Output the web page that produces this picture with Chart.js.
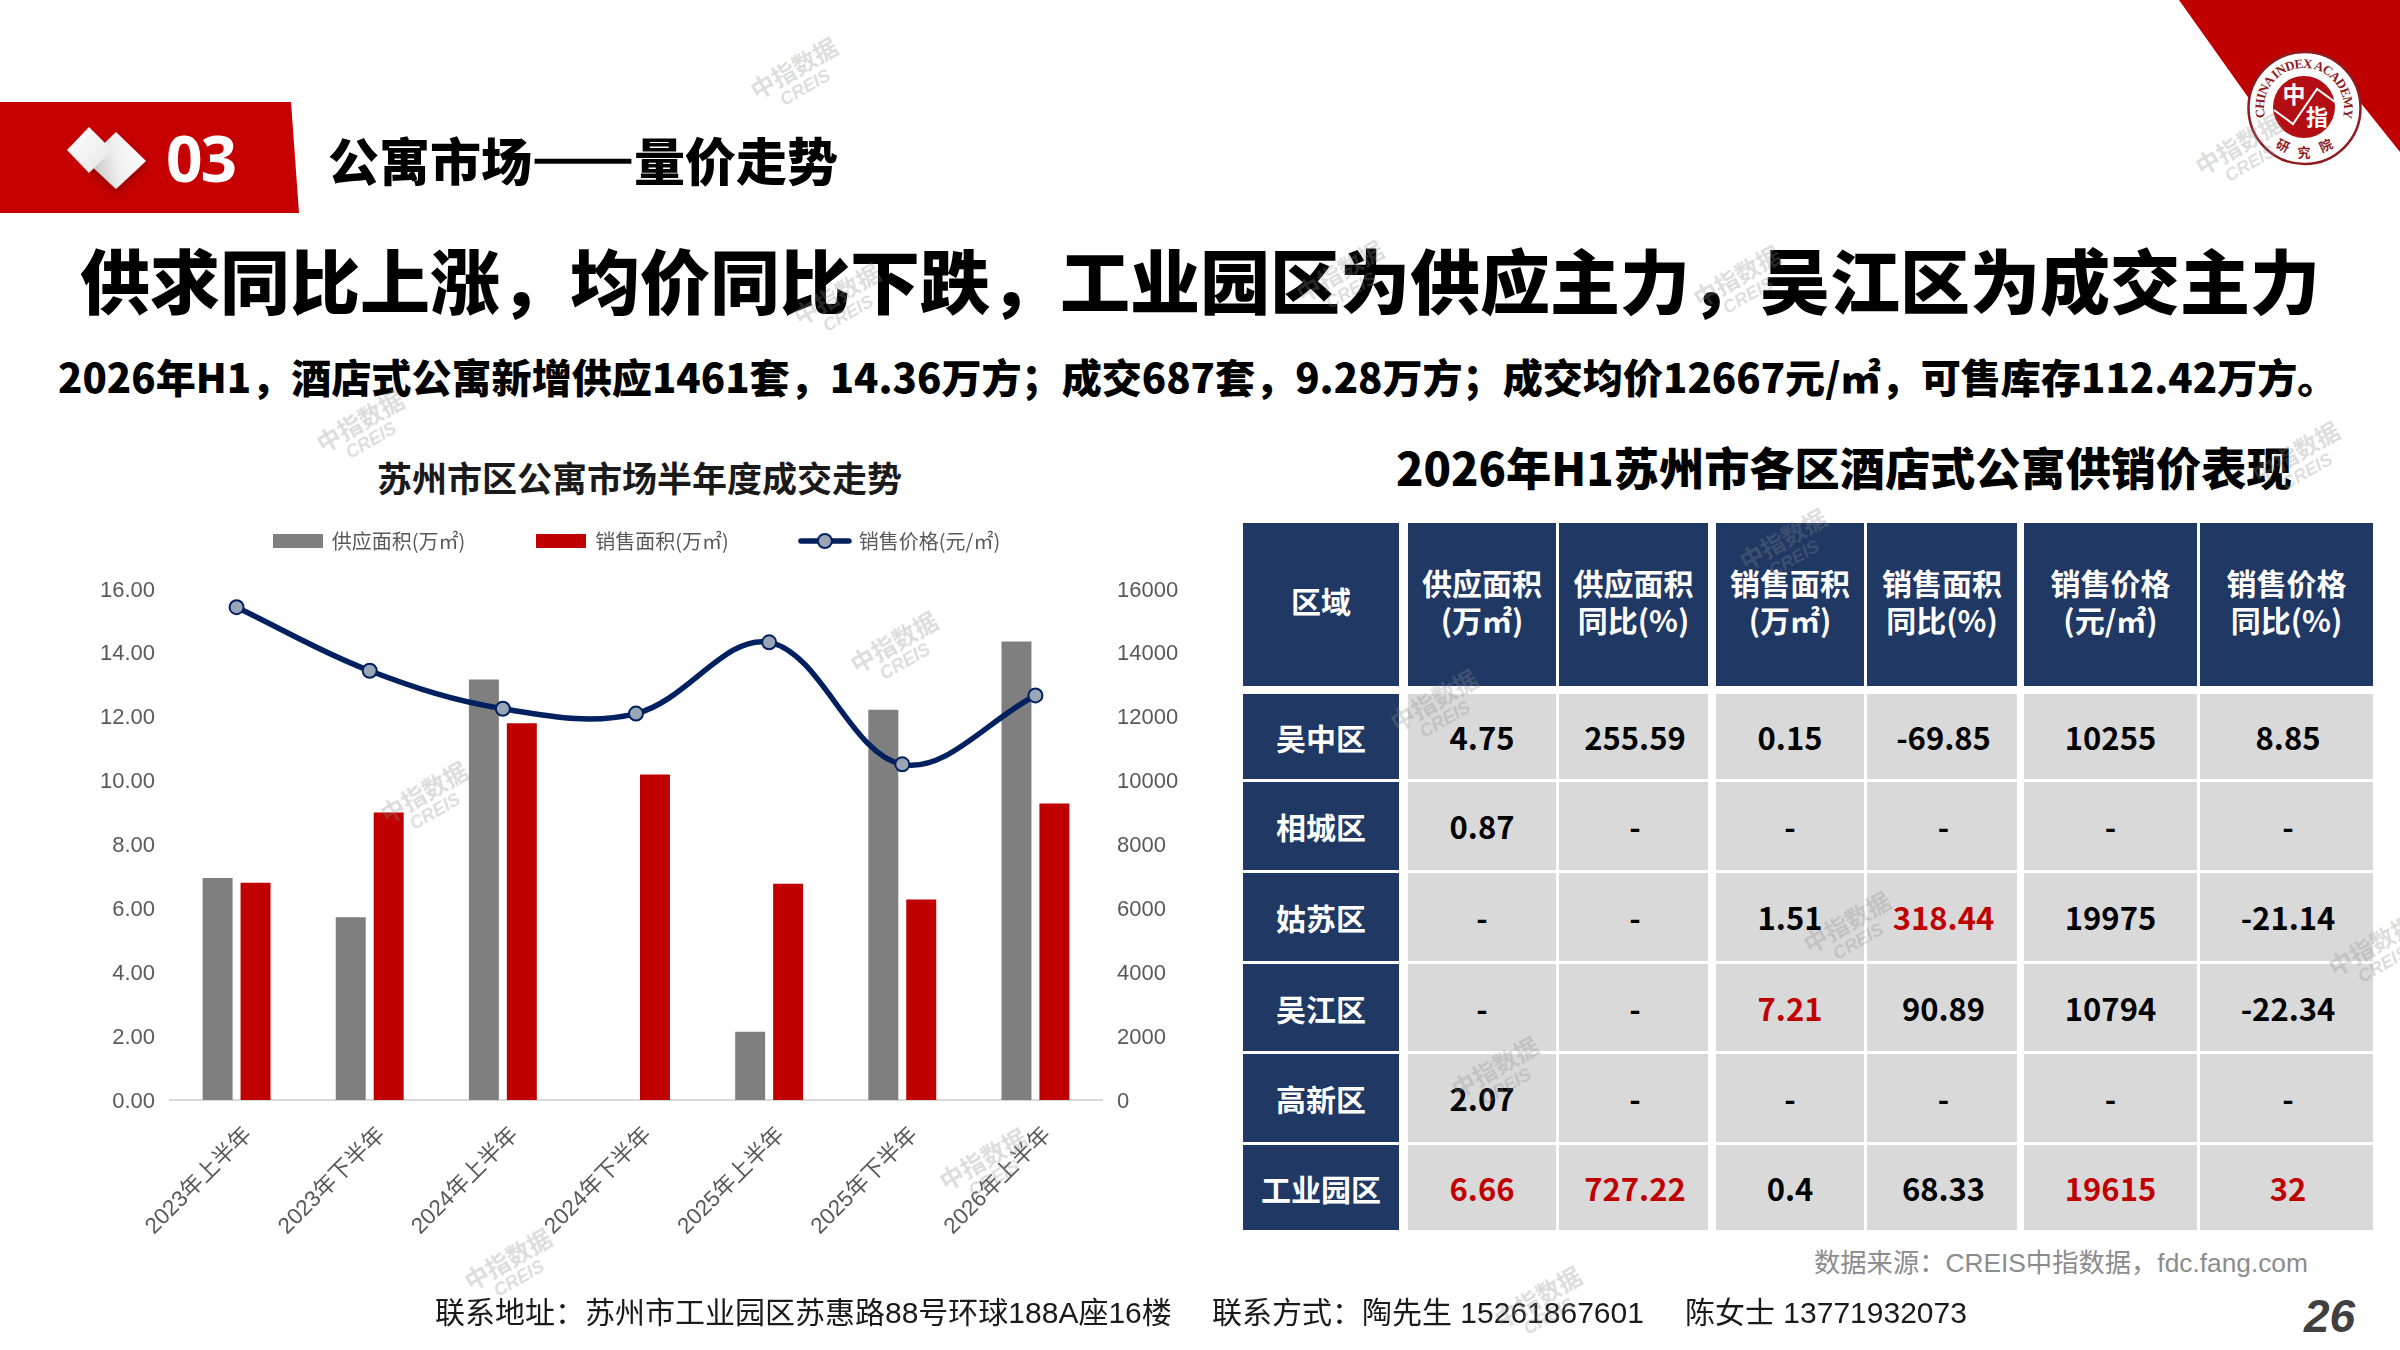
<!DOCTYPE html>
<html lang="zh">
<head>
<meta charset="utf-8">
<title>公寓市场——量价走势</title>
<script src="https://cdn.jsdelivr.net/npm/chart.js@4"></script>
<style>
  html, body { margin: 0; padding: 0; background: #fff; }
  #page { position: relative; width: 2400px; height: 1350px; overflow: hidden; background: #fff;
    font-family: "Noto Sans CJK SC", "Liberation Sans", sans-serif; color: #000; }
  .txt { position: absolute; white-space: nowrap; line-height: 1; }
  .b { font-weight: 900; }
  #chart { position: absolute; left: 0; top: 459px; }
  #shapes { position: absolute; left: 0; top: 0; }
  .cell { position: absolute; display: flex; align-items: center; justify-content: center; text-align: center;
    font-weight: 700; box-sizing: border-box; }
  .wm { position: absolute; width: 120px; text-align: center; color: rgba(140,140,140,.3); transform: rotate(-30deg);
    line-height: 1; font-weight: 700; pointer-events: none; }
  .wm span { display: block; font: italic 700 18px "Liberation Sans", sans-serif; margin-top: 1px; }
</style>
</head>
<body>
<div id="page">
  <svg id="shapes" width="2400" height="1350" viewBox="0 0 2400 1350">
    <defs>
      <linearGradient id="dia" x1="0" y1="0" x2="1" y2="1">
        <stop offset="0" stop-color="#ffffff"/><stop offset="1" stop-color="#e6e6e6"/>
      </linearGradient>
      <linearGradient id="dia2" x1="0" y1="0.6" x2="1" y2="0.4">
        <stop offset="0" stop-color="#bdbdbd"/><stop offset="0.5" stop-color="#efefef"/><stop offset="1" stop-color="#ffffff"/>
      </linearGradient>
      <filter id="soft" x="-30%" y="-30%" width="160%" height="160%"><feDropShadow dx="0" dy="4" stdDeviation="4" flood-color="#500" flood-opacity=".5"/></filter>
      <path id="ringTop" d="M 2265.4 118.4 A 40 40 0 1 1 2342.6 118.4"/>
    </defs>
    <polygon points="0,102 291,102 299,213 0,213" fill="#C60000"/>
    <polygon points="116,132 146,161 116,189 86,161" fill="url(#dia2)" filter="url(#soft)"/>
    <polygon points="89,127 112,150 89,173 67,150" fill="url(#dia)"/>
    <polygon points="2179,0 2400,0 2400,152 2360,102 2250,100" fill="#C00000"/>
    <circle cx="2304.5" cy="108" r="56" fill="#fff" stroke="#8E1B1F" stroke-width="2.5"/>
    <circle cx="2304" cy="107" r="31" fill="#B30E14"/>
    <polyline points="2274,110 2293,124 2317,89 2335,102" fill="none" stroke="#fff" stroke-width="2"/>
    <text font-family="Liberation Serif" font-weight="700" font-size="13" fill="#8E1B1F">
      <textPath href="#ringTop" startOffset="1" textLength="145" lengthAdjust="spacing">CHINA INDEX ACADEMY</textPath>
    </text>
    <text x="2294" y="103" font-family="Noto Sans CJK SC" font-weight="700" font-size="23" fill="#fff" text-anchor="middle">中</text>
    <text x="2317" y="125" font-family="Noto Sans CJK SC" font-weight="700" font-size="22" fill="#fff" text-anchor="middle">指</text>
    <text transform="translate(2281 150) rotate(25)" font-family="Noto Sans CJK SC" font-weight="700" font-size="13" fill="#8E1B1F" text-anchor="middle">研</text>
    <text transform="translate(2304 157)" font-family="Noto Sans CJK SC" font-weight="700" font-size="13" fill="#8E1B1F" text-anchor="middle">究</text>
    <text transform="translate(2328 150) rotate(-25)" font-family="Noto Sans CJK SC" font-weight="700" font-size="13" fill="#8E1B1F" text-anchor="middle">院</text>
  </svg>

  <div class="txt" style="left:166px;top:114px;font:700 64px 'Noto Sans','Liberation Sans',sans-serif;letter-spacing:-2px;color:#fff">03</div>
  <div class="txt b" style="left:328px;top:134px;font-size:51px">公寓市场<span style="-webkit-text-stroke:2.5px #000">——</span>量价走势</div>
  <div class="txt b" style="left:80px;top:244px;font-size:70px">供求同比上涨，均价同比下跌，工业园区为供应主力，吴江区为成交主力</div>
  <div class="txt b" id="sub" style="left:58px;top:356px;font-size:40.1px">2026年H1，酒店式公寓新增供应1461套，14.36万方；成交687套，9.28万方；成交均价12667元/㎡，可售库存112.42万方。</div>
  <div class="txt" style="left:377px;top:459px;font-size:35px;font-weight:700;color:#1a1a1a">苏州市区公寓市场半年度成交走势</div>
  <div class="txt b" style="left:1396px;top:444px;font-size:45.2px">2026年H1苏州市各区酒店式公寓供销价表现</div>

  <canvas id="chart" width="1274" height="841"></canvas>
  <div id="table"></div>

  <div class="txt" style="left:1814px;top:1250px;font-size:26.3px;font-family:'Liberation Sans','Noto Sans CJK SC',sans-serif;color:#8c8c8c">数据来源：CREIS中指数据，fdc.fang.com</div>
  <div class="txt" style="left:435px;top:1298px;font-size:30px;font-family:'Liberation Sans','Noto Sans CJK SC',sans-serif;color:#1a1a1a">联系地址：苏州市工业园区苏惠路88号环球188A座16楼</div>
  <div class="txt" style="left:1212px;top:1298px;font-size:30px;font-family:'Liberation Sans','Noto Sans CJK SC',sans-serif;color:#1a1a1a">联系方式：陶先生 15261867601</div>
  <div class="txt" style="left:1685px;top:1298px;font-size:30px;font-family:'Liberation Sans','Noto Sans CJK SC',sans-serif;color:#1a1a1a">陈女士 13771932073</div>
  <div class="txt" style="left:2304px;top:1289px;font:italic 700 46px 'Liberation Sans',sans-serif;color:#404040">26</div>
</div>

<script>
// chart values
const periods = ["2023年上半年", "2023年下半年", "2024年上半年", "2024年下半年", "2025年上半年", "2025年下半年", "2026年上半年"];
const supplyArea = [6.95, 5.72, 13.17, null, 2.14, 12.22, 14.36];
const salesArea = [6.8, 9.0, 11.8, 10.19, 6.77, 6.28, 9.28];
const salePrice = [15430, 13440, 12250, 12100, 14330, 10510, 12667];

// table contents
const tableHead = ["区域", "供应面积<br>(万㎡)", "供应面积<br>同比(%)", "销售面积<br>(万㎡)", "销售面积<br>同比(%)", "销售价格<br>(元/㎡)", "销售价格<br>同比(%)"];
const districts = ["吴中区", "相城区", "姑苏区", "吴江区", "高新区", "工业园区"];
const supplyCol = ["4.75", "0.87", "-", "-", "2.07", "6.66"];
const supplyYoyCol = ["255.59", "-", "-", "-", "-", "727.22"];
const salesCol = ["0.15", "-", "1.51", "7.21", "-", "0.4"];
const salesYoyCol = ["-69.85", "-", "318.44", "90.89", "-", "68.33"];
const priceCol = ["10255", "-", "19975", "10794", "-", "19615"];
const priceYoyCol = ["8.85", "-", "-21.14", "-22.34", "-", "32"];
const redCells = ["6.66", "727.22", "318.44", "7.21", "19615", "32"];

// table grid
const colEdges = [[1243, 1399], [1408, 1556], [1559, 1708], [1716, 1864], [1867, 2017], [2024, 2197], [2200, 2373]];
const rowEdges = [[694, 779], [782, 870], [873, 961], [964, 1051], [1054, 1142], [1145, 1230]];

const table = document.getElementById("table");
function addCell(col, top, bottom, html, bg, color, size, lh, pad) {
  const d = document.createElement("div");
  d.className = "cell";
  d.style.cssText = `left:${col[0]}px;width:${col[1] - col[0]}px;top:${top}px;height:${bottom - top}px;background:${bg};color:${color};font-size:${size}px;line-height:${lh || 1.2};${pad || ""}`;
  d.innerHTML = html;
  table.appendChild(d);
}
tableHead.forEach((h, i) => addCell(colEdges[i], 523, 686, h, "#1F3864", "#fff", 30, 1.22, "padding-bottom:8px"));
const bodyCols = [supplyCol, supplyYoyCol, salesCol, salesYoyCol, priceCol, priceYoyCol];
districts.forEach((name, r) => {
  addCell(colEdges[0], rowEdges[r][0], rowEdges[r][1], name, "#1F3864", "#fff", 30);
  bodyCols.forEach((col, c) => {
    const v = col[r];
    addCell(colEdges[c + 1], rowEdges[r][0], rowEdges[r][1], v, "#D9D9D9", redCells.includes(v) ? "#C00000" : "#000", 31, 1.2, c % 2 ? "padding-left:3px" : "");
  });
});

// legend swatches
function swatch(w, h, draw) {
  const c = document.createElement("canvas");
  c.width = w; c.height = h;
  draw(c.getContext("2d"));
  return c;
}
const greyKey = swatch(50, 14, (x) => { x.fillStyle = "#7F7F7F"; x.fillRect(0, 0, 50, 14); });
const redKey = swatch(50, 14, (x) => { x.fillStyle = "#C00000"; x.fillRect(0, 0, 50, 14); });
const lineKey = swatch(54, 18, (x) => {
  x.strokeStyle = "#002060"; x.lineWidth = 5.5; x.lineCap = "round";
  x.beginPath(); x.moveTo(3, 9); x.lineTo(51, 9); x.stroke();
  x.fillStyle = "#9AA5B5"; x.lineWidth = 2;
  x.beginPath(); x.arc(27, 9, 7, 0, Math.PI * 2); x.fill(); x.stroke();
});
const legendKeys = [greyKey, redKey, lineKey];

const tickFont = { family: '"Liberation Sans","Noto Sans CJK SC",sans-serif', size: 22 };

new Chart(document.getElementById("chart"), {
  type: "bar",
  data: {
    labels: periods,
    datasets: [
      { label: "供应面积(万㎡)", data: supplyArea, backgroundColor: "#7F7F7F", yAxisID: "y", order: 2,
        categoryPercentage: 0.57, barPercentage: 0.79 },
      { label: "销售面积(万㎡)", data: salesArea, backgroundColor: "#C00000", yAxisID: "y", order: 2,
        categoryPercentage: 0.57, barPercentage: 0.79 },
      { type: "line", label: "销售价格(元/㎡)", data: salePrice, yAxisID: "y2", order: 1,
        borderColor: "#002060", borderWidth: 5.5, tension: 0.36, fill: false,
        pointRadius: 7, pointBackgroundColor: "#9AA5B5", pointBorderColor: "#002060", pointBorderWidth: 2 },
    ],
  },
  options: {
    responsive: false,
    animation: false,
    devicePixelRatio: 1,
    layout: { padding: 0 },
    plugins: {
      title: { display: false },
      tooltip: { enabled: false },
      legend: {
        position: "top",
        labels: {
          color: "#595959",
          font: { family: '"Noto Sans CJK SC",sans-serif', size: 20 },
          usePointStyle: true,
          pointStyleWidth: 48,
          padding: 72,
          sort: (a, b) => a.datasetIndex - b.datasetIndex,
          generateLabels: (chart) =>
            Chart.defaults.plugins.legend.labels.generateLabels(chart).map((item) => ({
              ...item,
              pointStyle: legendKeys[item.datasetIndex],
            })),
        },
      },
    },
    scales: {
      x: {
        grid: { display: false, drawTicks: false },
        border: { color: "#D9D9D9", width: 2 },
        ticks: { color: "#595959", font: { ...tickFont, size: 22.5 }, maxRotation: 45, minRotation: 45, padding: 22, labelOffset: 12, autoSkip: false },
        afterFit: (s) => { s.height = 200; },
      },
      y: {
        position: "left",
        min: 0,
        max: 16,
        grid: { display: false, drawTicks: false },
        border: { display: false },
        ticks: { stepSize: 2, color: "#595959", font: tickFont, padding: 15, labelOffset: 1.5, callback: (v) => v.toFixed(2) },
        afterFit: (s) => { s.width = 170; },
      },
      y2: {
        position: "right",
        min: 0,
        max: 16000,
        grid: { display: false, drawTicks: false },
        border: { display: false },
        ticks: { stepSize: 2000, color: "#595959", font: tickFont, padding: 15, labelOffset: 1.5, callback: (v) => String(v) },
        afterFit: (s) => { s.width = 172; },
      },
    },
  },
  plugins: [{
    id: "legendRoom",
    beforeInit(chart) {
      // the wide item gap also inflates the legend height, so pin it
      const fit = chart.legend.fit;
      chart.legend.fit = function () {
        fit.call(this);
        this.height = 130;
      };
    },
  }],
});

// watermark stamps
const watermarkSpots = [[799, 78], [2244, 154], [842, 304], [1345, 281], [1742, 286], [365, 431], [2301, 462], [899, 652], [429, 802], [1788, 549], [1439, 710], [1852, 932], [2377, 955], [1500, 1077], [988, 1169], [513, 1269], [1543, 1307]];
const page = document.getElementById("page");
watermarkSpots.forEach(([x, y]) => {
  const w = document.createElement("div");
  w.className = "wm";
  w.style.cssText = `left:${x - 60}px;top:${y - 24}px;font-size:24px`;
  w.innerHTML = "中指数据<span>CREIS</span>";
  page.appendChild(w);
});
</script>
</body>
</html>
